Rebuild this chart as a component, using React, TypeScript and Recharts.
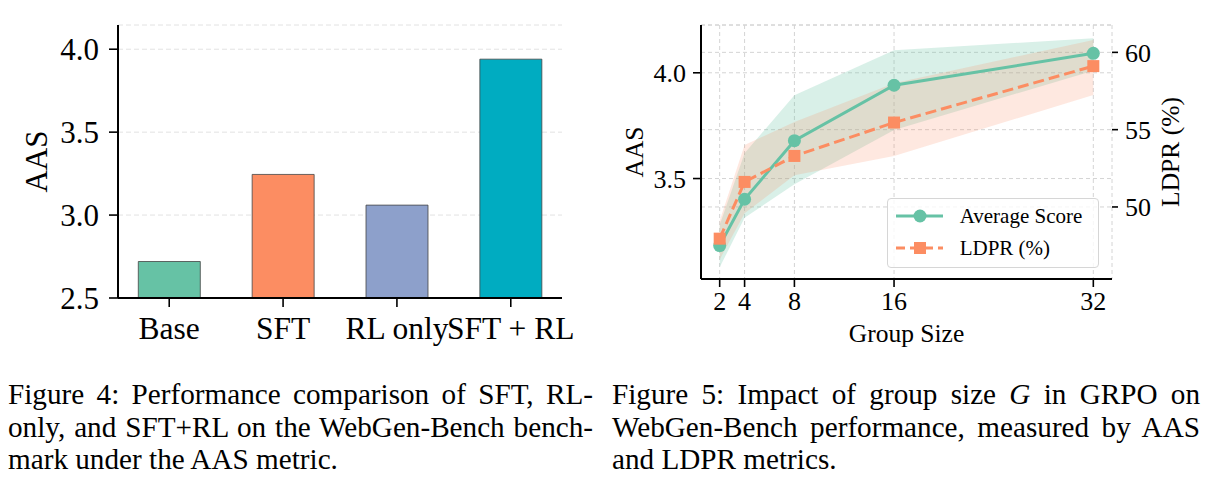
import React from "react";
import {
  BarChart,
  Bar,
  Cell,
  ComposedChart,
  Area,
  Line,
  XAxis,
  YAxis,
  CartesianGrid,
  Legend,
} from "recharts";

const FONT = '"Liberation Serif", "Times New Roman", Times, serif';

// Figure 4: AAS per training recipe
const methods = ["Base", "SFT", "RL only", "SFT + RL"];
const methodAas = [2.72, 3.245, 3.06, 3.94];
const methodColors = ["#66c2a5", "#fc8d62", "#8da0cb", "#00acc1"];
const aasTicks = [2.5, 3.0, 3.5, 4.0];

// Figure 5: group size sweep
const groupSizes = [2, 4, 8, 16, 32];
const avgScore = [3.183, 3.402, 3.679, 3.941, 4.092];
const avgScoreLow = [3.08, 3.315, 3.473, 3.73, 4.01];
const avgScoreHigh = [3.28, 3.62, 3.894, 4.107, 4.163];
const ldpr = [47.95, 51.62, 53.3, 55.46, 59.11];
const ldprLow = [46.6, 49.6, 52.05, 53.3, 57.24];
const ldprHigh = [49.1, 54.0, 55.5, 58.0, 60.8];
const groupAasTicks = [3.5, 4.0];
const ldprTicks = [50, 55, 60];

const GREEN = "#66c2a5";
const ORANGE = "#fc8d62";

const caption4 = [
  "Figure 4:  Performance comparison of SFT, RL-",
  "only, and SFT+RL on the WebGen-Bench bench-",
  "mark under the AAS metric.",
];
const caption5 = [
  "Figure 5:  Impact of group size *G* in GRPO on",
  "WebGen-Bench performance, measured by AAS",
  "and LDPR metrics.",
];

const barData = methods.map((name, i) => ({ pos: i, name, aas: methodAas[i] }));

const groupData = groupSizes.map((g, i) => ({
  g,
  aas: avgScore[i],
  ldpr: ldpr[i],
  aasBand: [avgScoreLow[i], avgScoreHigh[i]],
  ldprBand: [ldprLow[i], ldprHigh[i]],
}));

const legendItems = [
  { name: "Average Score", color: GREEN, marker: "circle", dash: undefined },
  { name: "LDPR (%)", color: ORANGE, marker: "square", dash: "9 5" },
];

const axisLine = { stroke: "#000", strokeWidth: 2 };
const tickLine = { stroke: "#000", strokeWidth: 1.6 };

function VerticalLabel({ viewBox, text, dx, size }: any) {
  const x = viewBox.x + dx;
  const y = viewBox.y + viewBox.height / 2;
  return (
    <text
      x={x}
      y={y}
      transform={`rotate(-90 ${x} ${y})`}
      textAnchor="middle"
      dominantBaseline="central"
      fontFamily={FONT}
      fontSize={size}
      fill="#000"
    >
      {text}
    </text>
  );
}

function SquareDot(props: any) {
  const { cx, cy, index } = props;
  if (cx == null || cy == null) return <g key={`sq-${index}`} />;
  return <rect key={`sq-${index}`} x={cx - 6} y={cy - 6} width={12} height={12} fill={ORANGE} />;
}

function GroupLegend() {
  return (
    <div
      style={{
        width: 212,
        height: 70,
        boxSizing: "border-box",
        border: "1px solid #d6d6d6",
        borderRadius: 4,
        background: "rgba(255,255,255,0.8)",
        fontFamily: FONT,
        fontSize: 21,
        color: "#000",
        position: "relative",
        textAlign: "left",
      }}
    >
      {legendItems.map((item, i) => (
        <div
          key={item.name}
          style={{ position: "absolute", left: 0, top: 2 + i * 32.5, height: 30, width: 212 }}
        >
          <svg width={60} height={30} style={{ position: "absolute", left: 0, top: 0 }}>
            <line
              x1={8}
              x2={55}
              y1={15}
              y2={15}
              stroke={item.color}
              strokeWidth={3}
              strokeDasharray={item.dash}
            />
            {item.marker === "circle" ? (
              <circle cx={32} cy={15} r={6.5} fill={item.color} />
            ) : (
              <rect x={26} y={9} width={12} height={12} fill={item.color} />
            )}
          </svg>
          <span style={{ position: "absolute", left: 72, top: 0, lineHeight: "30px" }}>
            {item.name}
          </span>
        </div>
      ))}
    </div>
  );
}

function renderCaptionLine(line: string) {
  return line.split("*").map((part, i) =>
    i % 2 === 1 ? <i key={i}>{part}</i> : <React.Fragment key={i}>{part}</React.Fragment>
  );
}

function Caption({ lines, left, width }: { lines: string[]; left: number; width: number }) {
  return (
    <div
      style={{
        position: "absolute",
        left,
        top: 378,
        width,
        fontFamily: FONT,
        fontSize: 29.2,
        lineHeight: "32.5px",
        color: "#000",
      }}
    >
      {lines.map((line, i) => (
        <div
          key={i}
          style={{
            textAlign: "justify",
            textAlignLast: i < lines.length - 1 ? "justify" : "left",
            whiteSpace: "nowrap",
          }}
        >
          {renderCaptionLine(line)}
        </div>
      ))}
    </div>
  );
}

export default function App() {
  return (
    <div
      style={{
        position: "absolute",
        left: 0,
        top: 0,
        width: 1209,
        height: 492,
        background: "#fff",
        overflow: "hidden",
      }}
    >
      <div style={{ position: "absolute", left: 0, top: 0 }}>
        <BarChart
          width={600}
          height={360}
          data={barData}
          margin={{ top: 25, right: 38, left: 0, bottom: 12 }}
        >
          <CartesianGrid vertical={false} stroke="#e2e2e2" strokeDasharray="5 3" />
          <XAxis
            dataKey="pos"
            type="number"
            domain={[-0.45, 3.45]}
            allowDataOverflow
            ticks={[0, 1, 2, 3]}
            interval={0}
            tickFormatter={(v: number) => methods[v]}
            height={50}
            axisLine={axisLine}
            tickLine={tickLine}
            tickSize={9}
            tickMargin={10}
            tick={{ fontFamily: FONT, fontSize: 31.5, fill: "#000" }}
          />
          <YAxis
            width={118}
            domain={[2.5, 4.146]}
            allowDataOverflow
            ticks={aasTicks}
            interval={0}
            tickFormatter={(v: number) => v.toFixed(1)}
            axisLine={axisLine}
            tickLine={tickLine}
            tickSize={9}
            tickMargin={10}
            tick={{ fontFamily: FONT, fontSize: 31, fill: "#000" }}
            label={{
              content: (p: any) => <VerticalLabel viewBox={p.viewBox} text="AAS" dx={36} size={31} />,
            }}
          />
          <Bar dataKey="aas" barSize={62} stroke="#444" strokeWidth={0.8} isAnimationActive={false}>
            {barData.map((d, i) => (
              <Cell key={d.name} fill={methodColors[i]} />
            ))}
          </Bar>
        </BarChart>
      </div>

      <div style={{ position: "absolute", left: 600, top: 0 }}>
        <ComposedChart
          width={609}
          height={360}
          data={groupData}
          margin={{ top: 25, right: 0, left: 0, bottom: 21 }}
        >
          <CartesianGrid yAxisId="aas" stroke="#d4d4d4" strokeDasharray="4 3" />
          <CartesianGrid yAxisId="ldpr" vertical={false} stroke="#d4d4d4" strokeDasharray="4 3" />
          <XAxis
            dataKey="g"
            type="number"
            domain={[0.5, 33.5]}
            allowDataOverflow
            ticks={groupSizes}
            interval={0}
            height={60}
            axisLine={axisLine}
            tickLine={tickLine}
            tickSize={8}
            tickMargin={5}
            tick={{ fontFamily: FONT, fontSize: 26, fill: "#000" }}
            label={{
              content: (p: any) => (
                <text
                  x={p.viewBox.x + p.viewBox.width / 2}
                  y={p.viewBox.y + 63}
                  textAnchor="middle"
                  fontFamily={FONT}
                  fontSize={25.5}
                  fill="#000"
                >
                  Group Size
                </text>
              ),
            }}
          />
          <YAxis
            yAxisId="aas"
            width={101}
            domain={[3.025, 4.226]}
            allowDataOverflow
            ticks={groupAasTicks}
            interval={0}
            tickFormatter={(v: number) => v.toFixed(1)}
            axisLine={axisLine}
            tickLine={tickLine}
            tickSize={8}
            tickMargin={7}
            tick={{ fontFamily: FONT, fontSize: 26, fill: "#000" }}
            label={{
              content: (p: any) => <VerticalLabel viewBox={p.viewBox} text="AAS" dx={34} size={25.5} />,
            }}
          />
          <YAxis
            yAxisId="ldpr"
            orientation="right"
            width={97}
            domain={[45.34, 61.77]}
            allowDataOverflow
            ticks={ldprTicks}
            interval={0}
            axisLine={false}
            tickLine={tickLine}
            tickSize={6}
            tickMargin={7}
            tick={{ fontFamily: FONT, fontSize: 26, fill: "#000" }}
            label={{
              content: (p: any) => (
                <VerticalLabel viewBox={p.viewBox} text="LDPR (%)" dx={58.7} size={25.5} />
              ),
            }}
          />
          <Area
            yAxisId="aas"
            type="linear"
            dataKey="aasBand"
            stroke="none"
            fill={GREEN}
            fillOpacity={0.25}
            isAnimationActive={false}
            activeDot={false}
          />
          <Area
            yAxisId="ldpr"
            type="linear"
            dataKey="ldprBand"
            stroke="none"
            fill={ORANGE}
            fillOpacity={0.2}
            isAnimationActive={false}
            activeDot={false}
          />
          <Line
            yAxisId="aas"
            type="linear"
            dataKey="aas"
            stroke={GREEN}
            strokeWidth={3}
            dot={{ r: 6.5, fill: GREEN, stroke: "none" }}
            activeDot={false}
            isAnimationActive={false}
          />
          <Line
            yAxisId="ldpr"
            type="linear"
            dataKey="ldpr"
            stroke={ORANGE}
            strokeWidth={3}
            strokeDasharray="11 5"
            dot={SquareDot}
            activeDot={false}
            isAnimationActive={false}
          />
          <Legend
            layout="horizontal"
            verticalAlign="middle"
            align="center"
            content={() => <GroupLegend />}
            wrapperStyle={{ left: 286.7, top: 197.7, width: 212, height: 70 }}
          />
        </ComposedChart>
      </div>

      <Caption lines={caption4} left={8} width={585} />
      <Caption lines={caption5} left={612} width={588} />
    </div>
  );
}
